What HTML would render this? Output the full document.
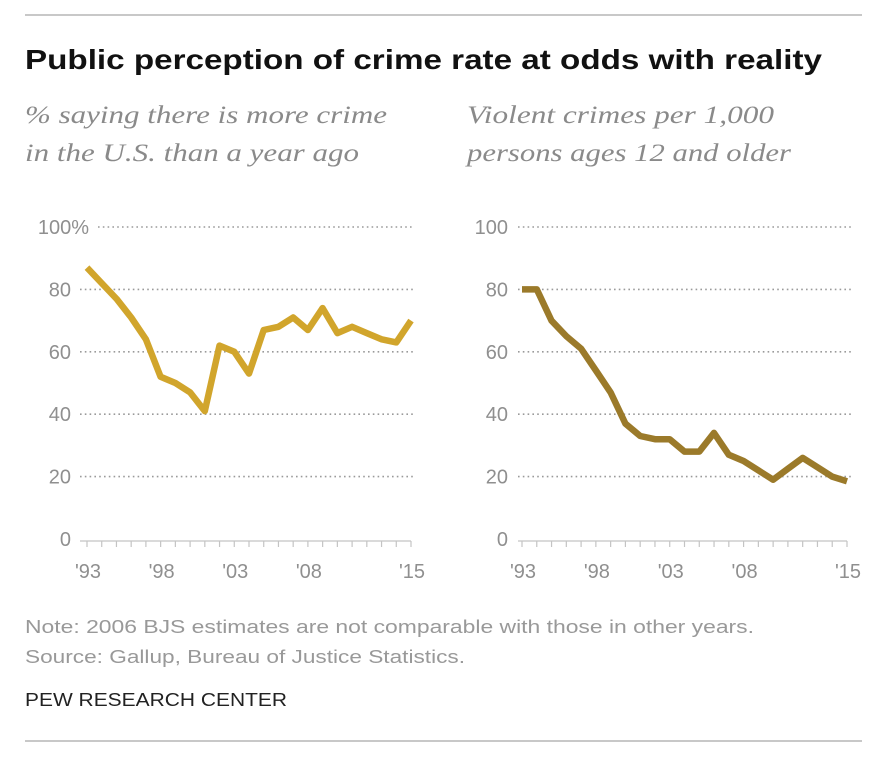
<!DOCTYPE html>
<html><head><meta charset="utf-8"><style>
html,body{margin:0;padding:0;background:#fff;}
svg{display:block;}
</style></head><body>
<svg id="chart" width="896" height="766" xmlns="http://www.w3.org/2000/svg">
<line x1="25" y1="15" x2="862" y2="15" stroke="#c8c8c8" stroke-width="2"/>
<text x="25" y="69" font-family="Liberation Sans, sans-serif" font-weight="bold" font-size="28" fill="#111" textLength="797" lengthAdjust="spacingAndGlyphs">Public perception of crime rate at odds with reality</text>
<g font-family="Liberation Serif, serif" font-style="italic" font-size="25" fill="#8a8a8a">
<text x="25" y="123" textLength="362" lengthAdjust="spacingAndGlyphs">% saying there is more crime</text>
<text x="25" y="161" textLength="334" lengthAdjust="spacingAndGlyphs">in the U.S. than a year ago</text>
<text x="467" y="123" textLength="307" lengthAdjust="spacingAndGlyphs">Violent crimes per 1,000</text>
<text x="467" y="161" textLength="324" lengthAdjust="spacingAndGlyphs">persons ages 12 and older</text>
</g>
<g id="left"></g>
<g id="right"></g>
<g font-family="Liberation Sans, sans-serif" font-size="18" fill="#999">
<text x="25" y="633" textLength="729" lengthAdjust="spacingAndGlyphs">Note: 2006 BJS estimates are not comparable with those in other years.</text>
<text x="25" y="663" textLength="440" lengthAdjust="spacingAndGlyphs">Source: Gallup, Bureau of Justice Statistics.</text>
</g>
<text x="25" y="706" font-family="Liberation Sans, sans-serif" font-size="18" fill="#222" textLength="262" lengthAdjust="spacingAndGlyphs">PEW RESEARCH CENTER</text>
<line x1="25" y1="741" x2="862" y2="741" stroke="#c8c8c8" stroke-width="2"/>
</svg>
<script>
const years = [1993,1994,1995,1996,1997,1998,1999,2000,2001,2002,2003,2004,2005,2006,2007,2008,2009,2010,2011,2012,2013,2014,2015];
const perceptionValues = [87,82,77,71,64,52,50,47,41,62,60,53,67,68,71,67,74,66,68,66,64,63,70];
const crimeValues = [80,80,70,65,61,54,47,37,33,32,32,28,28,34,27,25,22,19,22.5,26,23,20,18.5];
const yTicks = [0,20,40,60,80,100];
const leftTickLabels = ["0","20","40","60","80","100%"];
const rightTickLabels = ["0","20","40","60","80","100"];
const xTickYears = [1993,1998,2003,2008,2015];
const xTickLabels = ["'93","'98","'03","'08","'15"];

const NS = "http://www.w3.org/2000/svg";
function mk(tag, attrs, parent){const e=document.createElementNS(NS,tag);for(const k in attrs)e.setAttribute(k,attrs[k]);parent.appendChild(e);return e;}

function drawPanel(g, cfg){
  const xs = y => cfg.x0 + (y-1993)*(cfg.x1-cfg.x0)/(2015-1993);
  const ys = v => 539 - v*(539-227)/100;
  yTicks.forEach((t,i)=>{
    if(t>0){
      const gl = mk("line",{x1:(t===100?cfg.g100:cfg.gx0),x2:cfg.gx1,y1:ys(t),y2:ys(t),stroke:"#9a9a9a","stroke-width":1.6,"stroke-dasharray":"1.6 3.2"},g);
      
      
    }
    const tx = mk("text",{x:(t===100?cfg.lx100:cfg.lx),y:ys(t)+7,"text-anchor":"end","font-family":"Liberation Sans, sans-serif","font-size":20,fill:"#8f8f8f"},g);
    tx.textContent = cfg.labels[i];
    
    
  });
  const base = mk("line",{x1:cfg.gx0,x2:cfg.x1,y1:541,y2:541,stroke:"#c4c4c4","stroke-width":1.2},g);
  
  
  years.forEach(y=>{
    const tk = mk("line",{x1:xs(y),x2:xs(y),y1:541,y2:547,stroke:"#c4c4c4","stroke-width":1.2},g);
    
    
  });
  xTickYears.forEach((y,i)=>{
    const tx = mk("text",{x:xs(y)+1,y:578,"text-anchor":"middle","font-family":"Liberation Sans, sans-serif","font-size":20,fill:"#8f8f8f"},g);
    tx.textContent = xTickLabels[i];
    
    
  });
  const pts = cfg.values.map((v,i)=>xs(years[i]).toFixed(1)+","+ys(v).toFixed(1)).join(" ");
  const pl = mk("polyline",{points:pts,fill:"none",stroke:cfg.color,"stroke-width":6.5,"stroke-linejoin":"round","stroke-linecap":"butt"},g);
  
  
}
drawPanel(document.getElementById("left"),{x0:87,x1:411,gx0:80,gx1:413,g100:98,lx:71,lx100:89,labels:leftTickLabels,values:perceptionValues,color:"#d1a52c",name:"perception-line"});
drawPanel(document.getElementById("right"),{x0:522,x1:847,gx0:518,gx1:853,g100:518,lx:508,lx100:508,labels:rightTickLabels,values:crimeValues,color:"#9b7a2a",name:"violent-crime-line"});
</script>
</body></html>
